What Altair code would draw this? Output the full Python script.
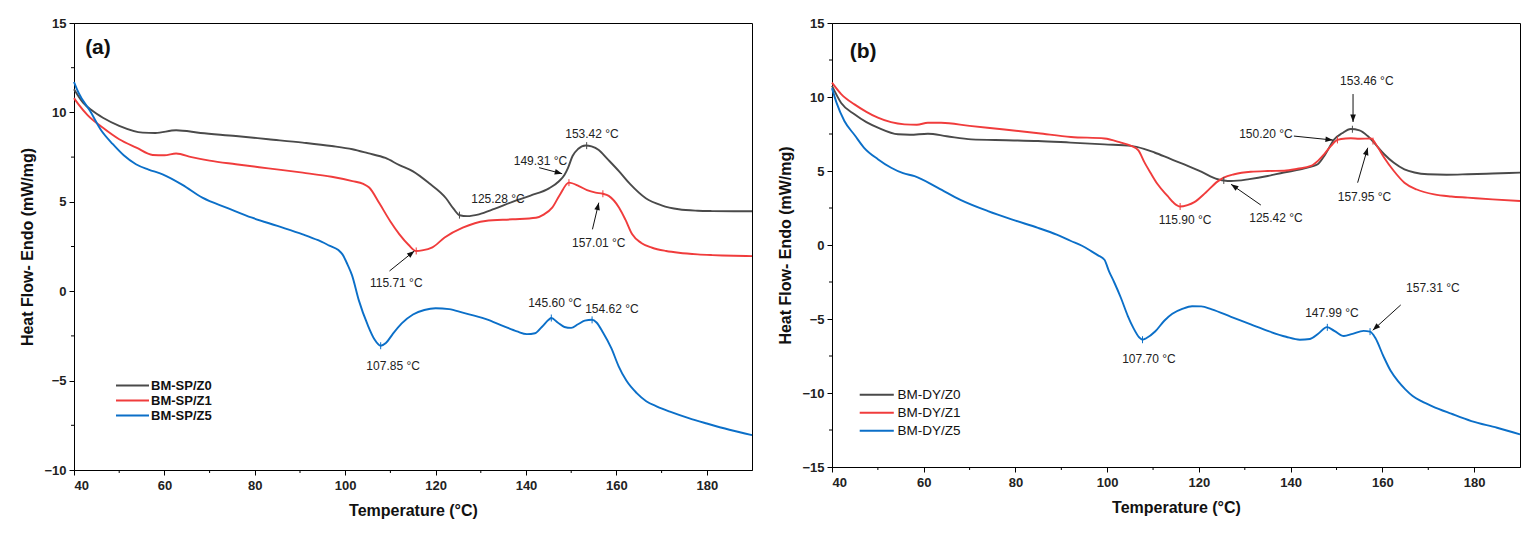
import altair as alt
import pandas as pd
import numpy as np
import math

FONT = "Liberation Sans"

# ---------------- Panel (a) data ----------------
a_names = ["BM-SP/Z0", "BM-SP/Z1", "BM-SP/Z5"]
a_z0_T = [40, 42, 44, 46.4, 50, 55.2, 58, 62.6, 68, 75.8, 83, 90.6, 97, 101.6, 105, 108.9, 112, 115, 118.5,
          122.3, 124, 125.3, 127, 129.6, 133, 137, 141, 145.1, 147.3, 148.5, 149.3, 150.3, 151.5, 153.2,
          154.5, 156.1, 158, 160.6, 163, 166.5, 170, 173.8, 178, 181.2, 186, 190]
a_z0_v = [11.3, 10.55, 10.1, 9.7, 9.25, 8.87, 8.85, 9.0, 8.85, 8.68, 8.5, 8.31, 8.12, 7.94, 7.72, 7.45, 7.05,
          6.7, 6.05, 5.2, 4.6, 4.25, 4.2, 4.3, 4.6, 5.0, 5.35, 5.75, 6.15, 6.5, 6.9, 7.56, 7.95, 8.15,
          8.1, 7.9, 7.4, 6.7, 6.0, 5.2, 4.8, 4.58, 4.5, 4.48, 4.47, 4.47]
a_z1_T = [40, 41, 43, 46.4, 50, 53.8, 57.4, 60, 62.6, 66, 70, 75.8, 83, 90.6, 97, 101.6, 104, 105.3, 107.6,
          110, 112, 114, 115.7, 117, 119.3, 122, 126, 131, 137, 142.2, 144, 145.8, 147.5, 149.5, 151.7,
          153.5, 155.4, 157, 158.3, 160.6, 162, 163.5, 165.5, 167.9, 171, 173.8, 178, 181.2, 186, 190]
a_z1_v = [10.8, 10.45, 9.85, 9.14, 8.5, 8.03, 7.62, 7.6, 7.7, 7.5, 7.3, 7.1, 6.87, 6.63, 6.4, 6.16, 6.0, 5.8,
          4.9, 3.9, 3.18, 2.6, 2.25, 2.28, 2.45, 3.0, 3.55, 3.93, 4.02, 4.11, 4.3, 4.67, 5.4, 6.07, 5.88,
          5.65, 5.51, 5.45, 5.33, 4.67, 4.0, 3.18, 2.7, 2.43, 2.25, 2.15, 2.06, 2.02, 1.98, 1.96]
a_z5_T = [40, 41, 43.5, 46, 48.6, 51, 53.7, 56.5, 59.6, 64, 68.4, 74, 79.4, 85, 90.6, 94, 96.5, 98.5, 99.4,
          100.5, 101.5, 103, 105, 106.5, 107.85, 109, 110.5, 112.5, 115, 117.5, 120, 123, 126, 131, 135,
          138, 140.2, 142, 143.5, 145, 145.6, 147, 148.5, 150, 151.5, 153, 154.6, 155.6, 157, 158.9, 160.5,
          162.2, 164.5, 166.6, 169, 172, 176, 180, 185, 190]
a_z5_v = [11.7, 11.1, 10.1, 9.0, 8.22, 7.6, 7.1, 6.8, 6.54, 5.95, 5.23, 4.65, 4.11, 3.65, 3.18, 2.85, 2.55,
          2.3, 2.06, 1.5, 0.9, -0.5, -1.9, -2.7, -3.05, -2.9, -2.4, -1.8, -1.3, -1.05, -0.95, -1.0, -1.2,
          -1.55, -1.95, -2.25, -2.4, -2.35, -2.0, -1.6, -1.5, -1.75, -2.0, -2.05, -1.85, -1.65, -1.6,
          -1.75, -2.3, -3.2, -4.2, -5.0, -5.7, -6.15, -6.45, -6.75, -7.1, -7.4, -7.75, -8.05]

a_ann_label = ["153.42 °C", "149.31 °C", "125.28 °C", "157.01 °C", "115.71 °C", "145.60 °C", "154.62 °C", "107.85 °C"]
a_ann_T = [154.6, 143.2, 133.8, 156.1, 111.3, 146.4, 159.0, 110.6]
a_ann_v = [8.8, 7.28, 5.16, 2.71, 0.48, -0.64, -1.0, -4.2]

a_arrow_T1 = [142.9, 154.7, 109.8]
a_arrow_v1 = [6.91, 3.46, 1.13]
a_arrow_T2 = [148.0, 156.1, 115.3]
a_arrow_v2 = [6.57, 4.95, 2.25]

a_mark_series = ["BM-SP/Z0", "BM-SP/Z0", "BM-SP/Z1", "BM-SP/Z1", "BM-SP/Z1", "BM-SP/Z5", "BM-SP/Z5", "BM-SP/Z5"]
a_mark_T = [153.42, 125.28, 149.5, 157.01, 115.71, 107.85, 145.60, 154.62]

# ---------------- Panel (b) data ----------------
b_names = ["BM-DY/Z0", "BM-DY/Z1", "BM-DY/Z5"]
b_z0_T = [40, 42, 44.9, 47.5, 50, 54.4, 57, 60.9, 65, 70.4, 78, 84.9, 92, 99.4, 105.2, 108, 110.3, 113.9,
          116.8, 120.5, 124.1, 125.4, 127, 131, 135, 138.5, 142.2, 144.5, 145.9, 147.5, 149.5, 151.2,
          153.1, 155, 156.8, 158.5, 160.4, 162.5, 164.8, 167, 169.9, 174, 178.6, 184, 190]
b_z0_v = [10.75, 9.6, 8.83, 8.3, 7.93, 7.48, 7.45, 7.52, 7.35, 7.14, 7.08, 7.03, 6.92, 6.8, 6.7, 6.5, 6.25,
          5.8, 5.45, 4.95, 4.44, 4.36, 4.32, 4.45, 4.66, 4.9, 5.11, 5.3, 5.45, 6.1, 7.14, 7.55, 7.84, 7.75,
          7.36, 6.8, 6.13, 5.55, 5.11, 4.9, 4.78, 4.75, 4.78, 4.83, 4.89]
b_z1_T = [40, 42, 44.9, 47.5, 50, 55.8, 58.5, 60.9, 63.8, 70, 77.6, 85, 92.1, 99.4, 103, 105.2, 106.8, 108.1,
          109.5, 111, 113.2, 114.5, 115.9, 117.5, 119, 121.5, 124.1, 125.4, 127.7, 131.3, 135, 138.6,
          141.5, 144.4, 146, 147.3, 148.8, 150.2, 152, 153.1, 155, 157.5, 159, 160.4, 162.5, 164.8, 167.5,
          171.3, 175, 178.6, 184, 190]
b_z1_v = [10.97, 10.2, 9.5, 9.0, 8.6, 8.15, 8.12, 8.26, 8.26, 8.05, 7.8, 7.55, 7.3, 7.2, 6.92, 6.7, 6.4, 5.6,
          4.85, 4.1, 3.3, 2.85, 2.6, 2.7, 2.9, 3.55, 4.3, 4.55, 4.78, 4.95, 5.0, 5.02, 5.15, 5.34, 5.7,
          6.13, 6.7, 7.1, 7.2, 7.21, 7.18, 7.2, 6.6, 5.9, 5.0, 4.21, 3.75, 3.42, 3.28, 3.2, 3.08, 2.97]
b_z5_T = [40, 41, 42.7, 45, 47, 50, 52.9, 55.5, 58, 63.1, 68, 74, 80, 84.9, 89, 92.1, 94.5, 96.5, 98, 99.4,
          100.4, 101.5, 103, 104.5, 105.7, 107, 107.7, 108.5, 110.5, 112.5, 114.2, 116.5, 118.5, 120.5,
          122.8, 127, 131.3, 135, 139, 142, 144.2, 146, 147.9, 149.5, 151.6, 153.5, 155.9, 157.3, 158.5,
          160.2, 161.8, 163.4, 165, 166.6, 168.5, 170.9, 175, 179.4, 185, 190]
b_z5_v = [10.6, 9.6, 8.38, 7.4, 6.57, 5.8, 5.22, 4.85, 4.65, 3.86, 3.05, 2.29, 1.65, 1.16, 0.7, 0.27, -0.05,
          -0.41, -0.7, -1.0, -1.78, -2.5, -3.58, -4.8, -5.6, -6.25, -6.4, -6.3, -5.83, -5.1, -4.65, -4.3,
          -4.14, -4.15, -4.35, -4.85, -5.36, -5.8, -6.2, -6.4, -6.35, -6.0, -5.55, -5.8, -6.15, -6.0, -5.8,
          -5.85, -6.3, -7.5, -8.5, -9.2, -9.75, -10.2, -10.55, -10.9, -11.4, -11.9, -12.35, -12.8]

b_ann_label = ["153.46 °C", "150.20 °C", "157.95 °C", "115.90 °C", "125.42 °C", "147.99 °C", "157.31 °C", "107.70 °C"]
b_ann_T = [156.6, 134.6, 156.1, 117.0, 136.8, 149.0, 171.0, 109.1]
b_ann_v = [11.08, 7.5, 3.24, 1.69, 1.82, -4.57, -2.88, -7.72]

b_arrow_T1 = [153.6, 140.7, 154.6, 133.5, 164.0]
b_arrow_v1 = [10.2, 7.36, 4.21, 2.7, -4.05]
b_arrow_T2 = [153.6, 149.2, 156.8, 127.0, 157.9]
b_arrow_v2 = [8.31, 7.09, 6.57, 4.1, -5.76]

b_mark_series = ["BM-DY/Z0", "BM-DY/Z0", "BM-DY/Z1", "BM-DY/Z1", "BM-DY/Z1", "BM-DY/Z5", "BM-DY/Z5", "BM-DY/Z5"]
b_mark_T = [153.46, 125.42, 150.20, 157.95, 115.90, 107.70, 147.99, 157.31]

COLORS = ["#4a4a4a", "#f03c3c", "#0b6fc8"]
X_TICKS = [40, 60, 80, 100, 120, 140, 160, 180]
X_MINOR = [50, 70, 90, 110, 130, 150, 170]


def panel(names, series, ann, arrows, marks, ydom, yticks, yminor, W, H, letter, letterTV, legend_opts):
    rows = []
    for n, (T, v) in zip(names, series):
        for t, val in zip(T, v):
            rows.append({"T": t, "v": val, "s": n})
    df = pd.DataFrame(rows)
    cscale = alt.Scale(domain=names, range=COLORS)
    xs = alt.Scale(domain=[40, 190], nice=False, zero=False)
    ys = alt.Scale(domain=ydom, nice=False, zero=False)
    xax = alt.Axis(values=X_TICKS, title="Temperature (°C)", grid=False)
    yax = alt.Axis(values=yticks, title="Heat Flow- Endo (mW/mg)", grid=False)

    lines = alt.Chart(df).mark_line(strokeWidth=1.9, interpolate="monotone").encode(
        x=alt.X("T:Q", scale=xs, axis=xax),
        y=alt.Y("v:Q", scale=ys, axis=yax),
        color=alt.Color("s:N", scale=cscale, sort=names, legend=alt.Legend(**legend_opts)),
        order=alt.Order("T:Q"),
        detail="s:N",
    )

    # small vertical tick marks on the curves
    mrows = []
    sdict = {n: s for n, s in zip(names, series)}
    for sname, t in zip(marks[0], marks[1]):
        T, v = sdict[sname]
        mrows.append({"T": t, "v": float(np.interp(t, T, v)), "s": sname})
    mdf = pd.DataFrame(mrows)
    ticks = alt.Chart(mdf).mark_point(shape="M0,-1V1", size=49, strokeWidth=1, filled=False, opacity=1).encode(
        x=alt.X("T:Q", scale=xs), y=alt.Y("v:Q", scale=ys),
        color=alt.Color("s:N", scale=cscale, legend=None),
    )

    adf = pd.DataFrame({"T": ann[1], "v": ann[2], "label": ann[0]})
    texts = alt.Chart(adf).mark_text(font=FONT, fontSize=12, color="#222222", align="center",
                                     baseline="middle").encode(
        x=alt.X("T:Q", scale=xs), y=alt.Y("v:Q", scale=ys), text="label:N")

    sx = W / 150.0
    sy = H / float(ydom[1] - ydom[0])
    angles = []
    for t1, v1, t2, v2 in zip(*arrows):
        ang = math.degrees(math.atan2((t2 - t1) * sx, (v2 - v1) * sy)) % 360
        angles.append(ang)
    rdf = pd.DataFrame({"T1": arrows[0], "v1": arrows[1], "T2": arrows[2], "v2": arrows[3], "ang": angles})
    arrow_lines = alt.Chart(rdf).mark_rule(color="#111111", strokeWidth=1).encode(
        x=alt.X("T1:Q", scale=xs), y=alt.Y("v1:Q", scale=ys), x2="T2:Q", y2="v2:Q")
    heads = alt.Chart(rdf).mark_point(shape="M0,0L-0.38,1L0.38,1Z", size=220, filled=True, color="#111111",
                                      opacity=1, strokeWidth=0).encode(
        x=alt.X("T2:Q", scale=xs), y=alt.Y("v2:Q", scale=ys), angle=alt.Angle("ang:Q", scale=None))

    ldf = pd.DataFrame({"T": [letterTV[0]], "v": [letterTV[1]], "label": [letter]})
    letter_mark = alt.Chart(ldf).mark_text(font=FONT, fontSize=21, fontWeight="bold", color="#111111",
                                           align="center", baseline="middle").encode(
        x=alt.X("T:Q", scale=xs), y=alt.Y("v:Q", scale=ys), text="label:N")

    xm = alt.Chart(pd.DataFrame({"T": X_MINOR})).mark_rule(color="#000000", strokeWidth=1).encode(
        x=alt.X("T:Q", scale=xs), y=alt.value(H), y2=alt.value(H + 3))
    ym = alt.Chart(pd.DataFrame({"v": yminor})).mark_rule(color="#000000", strokeWidth=1).encode(
        y=alt.Y("v:Q", scale=ys), x=alt.value(0), x2=alt.value(-3))

    return alt.layer(lines, ticks, arrow_lines, heads, texts, letter_mark, xm, ym).properties(width=W, height=H)


leg_a = dict(title=None, orient="none", legendX=52, legendY=356, symbolType="M-3,0H3", symbolSize=121,
             symbolStrokeWidth=2, labelOffset=12, rowPadding=1, labelFont=FONT, labelFontSize=13,
             labelFontWeight="bold", labelColor="#111111", padding=0)
leg_b = dict(title=None, orient="none", legendX=38, legendY=365, symbolType="M-3.1,0H3.1", symbolSize=121,
             symbolStrokeWidth=2, labelOffset=14, rowPadding=3, labelFont=FONT, labelFontSize=13.5,
             labelFontWeight="normal", labelColor="#111111", padding=0)

pa = panel(a_names, [(a_z0_T, a_z0_v), (a_z1_T, a_z1_v), (a_z5_T, a_z5_v)],
           (a_ann_label, a_ann_T, a_ann_v), (a_arrow_T1, a_arrow_v1, a_arrow_T2, a_arrow_v2),
           (a_mark_series, a_mark_T), [-10, 15], [-10, -5, 0, 5, 10, 15], [12.5, 7.5, 2.5, -2.5, -7.5],
           678, 447, "(a)", (45.3, 13.6), leg_a)
pb = panel(b_names, [(b_z0_T, b_z0_v), (b_z1_T, b_z1_v), (b_z5_T, b_z5_v)],
           (b_ann_label, b_ann_T, b_ann_v), (b_arrow_T1, b_arrow_v1, b_arrow_T2, b_arrow_v2),
           (b_mark_series, b_mark_T), [-15, 15], [-15, -10, -5, 0, 5, 10, 15],
           [12.5, 7.5, 2.5, -2.5, -7.5, -12.5], 688, 444, "(b)", (46.8, 13.06), leg_b)

chart = alt.hconcat(pa, pb, spacing=20).resolve_scale(color="independent").properties(
    padding={"left": 11, "top": 8, "right": 5, "bottom": 5}
).configure_view(stroke="#000000", strokeWidth=1).configure_axis(
    labelFont=FONT, labelFontSize=13, labelFontWeight="bold", labelColor="#222222",
    titleFont=FONT, titleFontSize=16, titleFontWeight="bold", titleColor="#111111",
    domainColor="#000000", tickColor="#000000", tickSize=5, labelPadding=3, titlePadding=8,
    domainWidth=1, tickWidth=1
).configure_axisX(labelPadding=4, titlePadding=10)

chart.save("out.html", embed_options={"renderer": "svg", "actions": False})
